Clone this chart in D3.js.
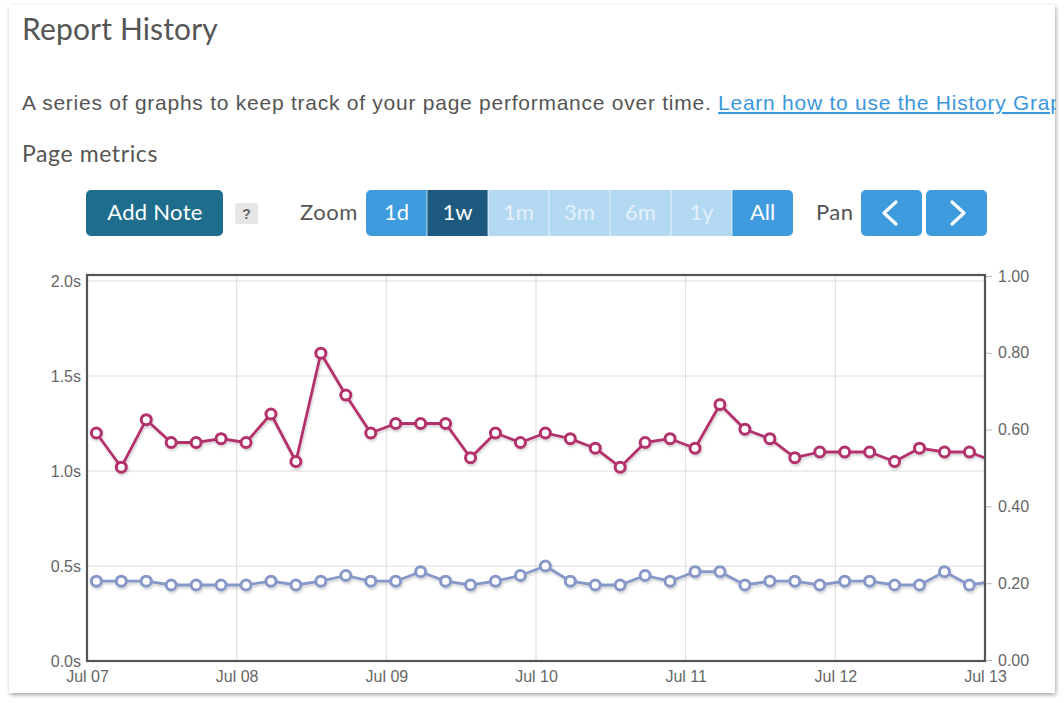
<!DOCTYPE html>
<html>
<head>
<meta charset="utf-8">
<script src="https://cdn.jsdelivr.net/npm/d3@7/dist/d3.min.js"></script>
<style>
  html, body { margin: 0; padding: 0; background: #ffffff; }
  svg { display: block; }
</style>
</head>
<body>
<svg id="chart" width="1064" height="703"></svg>
<script>
// ---------- data ----------
const times = [
  "2020-07-07T01:30","2020-07-07T05:30","2020-07-07T09:30","2020-07-07T13:30","2020-07-07T17:30","2020-07-07T21:30",
  "2020-07-08T01:30","2020-07-08T05:30","2020-07-08T09:30","2020-07-08T13:30","2020-07-08T17:30","2020-07-08T21:30",
  "2020-07-09T01:30","2020-07-09T05:30","2020-07-09T09:30","2020-07-09T13:30","2020-07-09T17:30","2020-07-09T21:30",
  "2020-07-10T01:30","2020-07-10T05:30","2020-07-10T09:30","2020-07-10T13:30","2020-07-10T17:30","2020-07-10T21:30",
  "2020-07-11T01:30","2020-07-11T05:30","2020-07-11T09:30","2020-07-11T13:30","2020-07-11T17:30","2020-07-11T21:30",
  "2020-07-12T01:30","2020-07-12T05:30","2020-07-12T09:30","2020-07-12T13:30","2020-07-12T17:30","2020-07-12T21:30",
  "2020-07-13T01:30"
];
const loadTime = [
  1.20, 1.02, 1.27, 1.15, 1.15, 1.17, 1.15, 1.30, 1.05, 1.62,
  1.40, 1.20, 1.25, 1.25, 1.25, 1.07, 1.20, 1.15, 1.20, 1.17,
  1.12, 1.02, 1.15, 1.17, 1.12, 1.35, 1.22, 1.17, 1.07, 1.10,
  1.10, 1.10, 1.05, 1.12, 1.10, 1.10, 1.05
];
const ttfb = [
  0.42, 0.42, 0.42, 0.40, 0.40, 0.40, 0.40, 0.42, 0.40, 0.42,
  0.45, 0.42, 0.42, 0.47, 0.42, 0.40, 0.42, 0.45, 0.50, 0.42,
  0.40, 0.40, 0.45, 0.42, 0.47, 0.47, 0.40, 0.42, 0.42, 0.40,
  0.42, 0.42, 0.40, 0.40, 0.47, 0.40, 0.42
];
const leftTicks = [0, 0.5, 1.0, 1.5, 2.0];
const rightTicks = [0, 0.2, 0.4, 0.6, 0.8, 1.0];
const zoomLabels = ["1d", "1w", "1m", "3m", "6m", "1y", "All"];
const zoomStates = ["on", "active", "off", "off", "off", "off", "on"];

// ---------- setup ----------
const svg = d3.select("#chart");
const parse = d3.timeParse("%Y-%m-%dT%H:%M");
const TITLE_FONT = "Lato, 'Open Sans', sans-serif";
const BODY_FONT = "'Liberation Sans', Arial, sans-serif";

const defs = svg.append("defs");
const sh = defs.append("filter").attr("id", "cardShadow").attr("x", "-5%").attr("y", "-5%").attr("width", "110%").attr("height", "110%");
sh.append("feDropShadow").attr("dx", 1).attr("dy", 2).attr("stdDeviation", 2.2).attr("flood-color", "#000").attr("flood-opacity", 0.35);
const lsh = defs.append("filter").attr("id", "lineShadow").attr("x", "-5%").attr("y", "-20%").attr("width", "110%").attr("height", "140%");
lsh.append("feDropShadow").attr("dx", 1).attr("dy", 2).attr("stdDeviation", 1.2).attr("flood-color", "#000").attr("flood-opacity", 0.18);

// card
svg.append("rect").attr("x", 9).attr("y", 5).attr("width", 1046).attr("height", 688)
  .attr("fill", "#fff").attr("filter", "url(#cardShadow)");

const card = svg.append("g");
defs.append("clipPath").attr("id", "cardClip").append("rect")
  .attr("x", 9).attr("y", 5).attr("width", 1047).attr("height", 688);
card.attr("clip-path", "url(#cardClip)");

// headings
card.append("text").attr("x", 22).attr("y", 40).text("Report History")
  .attr("font-family", TITLE_FONT).attr("font-size", 30).attr("letter-spacing", 0.15).attr("fill", "#555");

const para = card.append("text").attr("x", 22).attr("y", 110)
  .attr("font-family", BODY_FONT).attr("font-size", 21).attr("letter-spacing", 0.75).attr("fill", "#555");
para.append("tspan").text("A series of graphs to keep track of your page performance over time. ");
para.append("tspan").text("Learn how to use the History Graphs").attr("fill", "#3b97dc")
  .attr("text-decoration", "underline");

card.append("text").attr("x", 22).attr("y", 162).text("Page metrics")
  .attr("font-family", TITLE_FONT).attr("font-size", 23).attr("letter-spacing", 0.6).attr("fill", "#555");

// ---------- controls ----------
const ctrl = card.append("g");
ctrl.append("rect").attr("x", 86).attr("y", 190).attr("width", 137).attr("height", 46).attr("rx", 5)
  .attr("fill", "#1f6d8c");
ctrl.append("text").attr("x", 155).attr("y", 220).attr("text-anchor", "middle").text("Add Note")
  .attr("font-family", TITLE_FONT).attr("font-size", 22).attr("letter-spacing", 0.3).attr("fill", "#fff");

ctrl.append("rect").attr("x", 235).attr("y", 203).attr("width", 23).attr("height", 21).attr("rx", 2)
  .attr("fill", "#e6e6e6");
ctrl.append("text").attr("x", 246.5).attr("y", 219).attr("text-anchor", "middle").text("?")
  .attr("font-family", BODY_FONT).attr("font-weight", "bold").attr("font-size", 14).attr("fill", "#666");

ctrl.append("text").attr("x", 300).attr("y", 220).text("Zoom")
  .attr("font-family", TITLE_FONT).attr("font-size", 22).attr("letter-spacing", 0.5).attr("fill", "#555");

const zx = d3.scaleBand().domain(zoomLabels).range([366, 793]);
const fillFor = { on: "#3d9bde", active: "#1e5a80", off: "#b3d8f2" };
const textFor = { on: "#ffffff", active: "#ffffff", off: "#e4f1fb" };
const zg = ctrl.append("g");
defs.append("clipPath").attr("id", "zoomClip").append("rect")
  .attr("x", 366).attr("y", 190).attr("width", 427).attr("height", 46).attr("rx", 5);
zg.attr("clip-path", "url(#zoomClip)");
zg.selectAll("rect").data(zoomLabels).join("rect")
  .attr("x", d => zx(d)).attr("y", 190).attr("width", zx.bandwidth()).attr("height", 46)
  .attr("fill", (d, i) => fillFor[zoomStates[i]]);
zg.selectAll("line").data(zoomLabels.slice(1)).join("line")
  .attr("x1", d => zx(d)).attr("x2", d => zx(d)).attr("y1", 190).attr("y2", 236)
  .attr("stroke", "#ffffff").attr("stroke-opacity", 0.7).attr("stroke-width", 1);
zg.selectAll("text").data(zoomLabels).join("text")
  .attr("x", d => zx(d) + zx.bandwidth() / 2).attr("y", 220).attr("text-anchor", "middle")
  .text(d => d).attr("font-family", TITLE_FONT).attr("font-size", 22)
  .attr("fill", (d, i) => textFor[zoomStates[i]]);

ctrl.append("text").attr("x", 816).attr("y", 220).text("Pan")
  .attr("font-family", TITLE_FONT).attr("font-size", 22).attr("letter-spacing", 0.5).attr("fill", "#555");
[[861, "M896,202 L884,213 L896,224"], [926, "M952,202 L964,213 L952,224"]].forEach(([x, p]) => {
  ctrl.append("rect").attr("x", x).attr("y", 190).attr("width", 61).attr("height", 46).attr("rx", 5).attr("fill", "#3d9bde");
  ctrl.append("path").attr("d", p).attr("fill", "none").attr("stroke", "#fff").attr("stroke-width", 3.2)
    .attr("stroke-linecap", "round").attr("stroke-linejoin", "round");
});

// ---------- chart ----------
const L = 87, R = 985, T = 275, B = 661;
const x = d3.scaleTime().domain([parse("2020-07-07T00:00"), parse("2020-07-13T00:00")]).range([L, R]);
const yL = d3.scaleLinear().domain([0, 2]).range([B, 281]);
const yR = d3.scaleLinear().domain([0, 1]).range([B - 1, T + 1]);

const chart = card.append("g");
// gridlines
chart.append("g").selectAll("line").data(leftTicks).join("line")
  .attr("x1", L).attr("x2", R).attr("y1", d => yL(d)).attr("y2", d => yL(d))
  .attr("stroke", "#dcdcdc").attr("stroke-width", 1);
const dayTicks = x.ticks(d3.timeDay.every(1));
chart.append("g").selectAll("line").data(dayTicks).join("line")
  .attr("x1", d => x(d)).attr("x2", d => x(d)).attr("y1", T).attr("y2", B)
  .attr("stroke", "#dcdcdc").attr("stroke-width", 1);

// left axis
const leftAxis = chart.append("g").attr("transform", `translate(${L - 6},0)`)
  .call(d3.axisLeft(yL).tickValues(leftTicks).tickSize(0).tickPadding(0).tickFormat(d => d3.format(".1f")(d) + "s"));
leftAxis.select(".domain").remove();
leftAxis.selectAll("text").attr("font-family", BODY_FONT).attr("font-size", 16).attr("fill", "#666");

// right axis
const rightAxis = chart.append("g").attr("transform", `translate(${R},0)`)
  .call(d3.axisRight(yR).tickValues(rightTicks).tickSize(7).tickPadding(6).tickFormat(d3.format(".2f")));
rightAxis.select(".domain").remove();
rightAxis.selectAll("line").attr("stroke", "#bbb");
rightAxis.selectAll("text").attr("font-family", BODY_FONT).attr("font-size", 16).attr("fill", "#666");

// bottom axis
const bottomAxis = chart.append("g").attr("transform", `translate(0,${B})`)
  .call(d3.axisBottom(x).ticks(d3.timeDay.every(1)).tickSize(0).tickPadding(10).tickFormat(d3.timeFormat("%b %d")));
bottomAxis.select(".domain").remove();
bottomAxis.selectAll("text").attr("font-family", BODY_FONT).attr("font-size", 16).attr("fill", "#666");

// series
defs.append("clipPath").attr("id", "plotClip").append("rect")
  .attr("x", L).attr("y", T).attr("width", R - L).attr("height", B - T);
const plot = chart.append("g").attr("clip-path", "url(#plotClip)");

const series = [
  { values: ttfb, color: "#8797c7" },
  { values: loadTime, color: "#b3306c" }
];
series.forEach(s => {
  const pts = times.map((t, i) => ({ t: parse(t), v: s.values[i] }));
  const g = plot.append("g").attr("filter", "url(#lineShadow)");
  g.append("path").datum(pts)
    .attr("d", d3.line().x(d => x(d.t)).y(d => yL(d.v)))
    .attr("fill", "none").attr("stroke", s.color).attr("stroke-width", 2.8).attr("stroke-linejoin", "round");
  g.selectAll("circle").data(pts).join("circle")
    .attr("cx", d => x(d.t)).attr("cy", d => yL(d.v)).attr("r", 5)
    .attr("fill", "#fff").attr("stroke", s.color).attr("stroke-width", 3);
});

// frame
chart.append("rect").attr("x", L).attr("y", T).attr("width", R - L).attr("height", B - T)
  .attr("fill", "none").attr("stroke", "#555").attr("stroke-width", 2.2);
</script>
</body>
</html>
